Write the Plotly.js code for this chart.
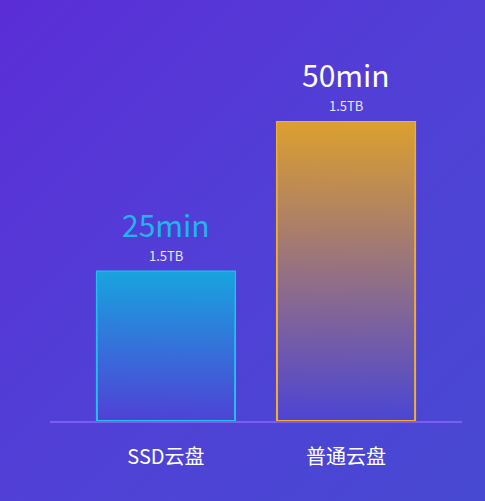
<!DOCTYPE html>
<html>
<head>
<meta charset="utf-8">
<script src="https://cdn.plot.ly/plotly-3.0.1.min.js"></script>
<style>
  html, body { margin: 0; padding: 0; }
  body {
    width: 485px; height: 501px;
    background: linear-gradient(135deg, #5b2dd7 0%, #5140d6 50%, #4749d2 100%);
  }
  #chart { width: 485px; height: 501px; }
</style>
</head>
<body>
<div id="chart"></div>
<script>
const categories = ['SSD云盘', '普通云盘'];
const minutes = [25, 50];
const capacity = ['1.5TB', '1.5TB'];

const FONT = 'Microsoft YaHei, "Noto Sans CJK SC", sans-serif';
const BAR_W = 0.767;
const edgeColors = ['#22c2ec', '#f2b032'];
const topColors = ['rgba(24,164,222,1)', 'rgba(220,160,46,1)'];
const baseColors = ['rgba(24,164,222,0)', 'rgba(220,160,46,0)'];
const valueColors = ['#1fb6ea', '#ffffff'];

const idx = categories.map((_, i) => i);

// gradient fill behind each bar (bars themselves can't take a gradient)
const fills = idx.map(i => ({
    x: [i - BAR_W / 2, i - BAR_W / 2, i + BAR_W / 2, i + BAR_W / 2, i - BAR_W / 2],
    y: [0, minutes[i], minutes[i], 0, 0],
    type: 'scatter',
    mode: 'none',
    fill: 'toself',
    fillgradient: {
        type: 'vertical',
        colorscale: [[0, baseColors[i]], [1, topColors[i]]]
    },
    hoverinfo: 'skip',
    showlegend: false
}));

const bars = {
    x: idx,
    y: minutes,
    type: 'bar',
    width: BAR_W,
    marker: {
        color: 'rgba(0,0,0,0)',
        line: { color: edgeColors, width: 2 }
    },
    hoverinfo: 'none',
    showlegend: false
};

const annotations = [];
idx.forEach(i => {
    annotations.push({
        x: i, y: minutes[i], xref: 'x', yref: 'y',
        text: minutes[i] + 'min', showarrow: false,
        yanchor: 'bottom', yshift: 25, borderpad: 0,
        font: { family: FONT, size: 30, color: valueColors[i] }
    });
    annotations.push({
        x: i, y: minutes[i], xref: 'x', yref: 'y',
        text: capacity[i], showarrow: false,
        yanchor: 'bottom', yshift: 6, borderpad: 0,
        font: { family: FONT, size: 13, color: '#ece6ff' }
    });
});

const layout = {
    width: 485,
    height: 501,
    paper_bgcolor: 'rgba(0,0,0,0)',
    plot_bgcolor: 'rgba(0,0,0,0)',
    margin: { t: 0, b: 80, l: 50, r: 23 },
    showlegend: false,
    xaxis: {
        type: 'linear',
        range: [-0.644, 1.644],
        tickvals: idx,
        ticktext: categories,
        tickfont: { family: FONT, size: 20, color: '#ffffff' },
        ticks: '',
        ticklabelstandoff: 17,
        showgrid: false,
        zeroline: false,
        showline: true,
        linecolor: '#7d5cf0',
        linewidth: 2,
        fixedrange: true
    },
    yaxis: {
        range: [0, 70.4],
        visible: false,
        fixedrange: true
    },
    annotations: annotations,
    hovermode: false,
    dragmode: false
};

Plotly.newPlot('chart', [...fills, bars], layout, { displayModeBar: false, staticPlot: true });
</script>
</body>
</html>
